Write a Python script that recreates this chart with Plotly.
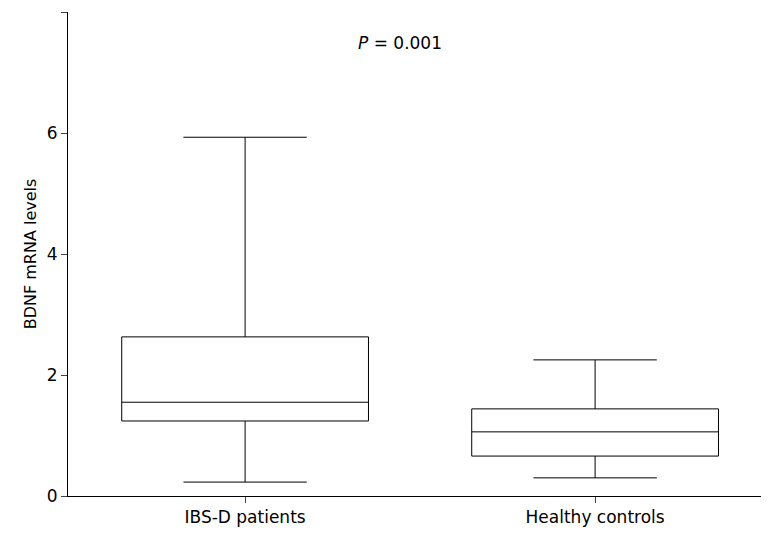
import plotly.graph_objects as go

groups = ["IBS-D patients", "Healthy controls"]
positions = [0, 1]
lower = [0.23, 0.30]
q1 = [1.24, 0.66]
median = [1.55, 1.06]
q3 = [2.63, 1.44]
upper = [5.93, 2.25]
yticks = [0, 2, 4, 6, 8]

fig = go.Figure()
for i in range(2):
    fig.add_trace(go.Box(
        x=[positions[i]], q1=[q1[i]], median=[median[i]], q3=[q3[i]],
        lowerfence=[lower[i]], upperfence=[upper[i]],
        width=0.705, whiskerwidth=0.5, fillcolor="white",
        line=dict(color="black", width=1), showlegend=False, hoverinfo="skip"))

font = dict(family="DejaVu Sans", size=17, color="black")
fig.update_layout(
    width=769, height=541, plot_bgcolor="white", paper_bgcolor="white",
    margin=dict(l=60, r=9, t=4, b=53), font=font,
    xaxis=dict(range=[-0.506, 1.494], tickvals=positions, ticktext=groups,
               showline=True, linecolor="black", ticks="outside", ticklen=6,
               showgrid=False, zeroline=False, automargin=False),
    yaxis=dict(range=[0, 8], tickvals=yticks, showline=True, linecolor="black",
               ticks="outside", ticklen=6, showgrid=False, zeroline=False,
               automargin=False,
               title=dict(text="BDNF mRNA levels", standoff=6, font=dict(size=16))),
)
fig.add_annotation(x=0.443, y=7.49, text="<i>P</i> = 0.001", showarrow=False,
                   font=font)
fig.write_html("out.html")
